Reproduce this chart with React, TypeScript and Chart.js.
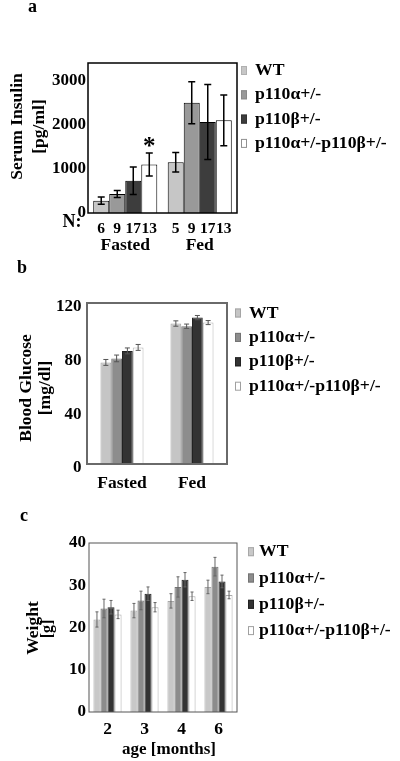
import React, { useEffect, useRef } from "react";
import { Chart, registerables } from "chart.js";

Chart.register(...registerables);

const FONT = "'Liberation Serif', 'Times New Roman', Times, serif";

const SERIES = ["WT", "p110α+/-", "p110β+/-", "p110α+/-p110β+/-"];

// ---- Panel a: Serum insulin ----
const insulinCategories = ["Fasted", "Fed"];
const insulinWT = [280, 1150];
const insulinA = [430, 2500];
const insulinB = [730, 2060];
const insulinAB = [1100, 2100];
const insulinErrWT = [80, 220];
const insulinErrA = [80, 475];
const insulinErrB = [310, 850];
const insulinErrAB = [260, 575];
const insulinN_WT = [6, 5];
const insulinN_A = [9, 9];
const insulinN_B = [17, 17];
const insulinN_AB = [13, 13];
const insulinStarWT = ["", ""];
const insulinStarA = ["", ""];
const insulinStarB = ["", ""];
const insulinStarAB = ["*", ""];
const insulinTicks = [0, 1000, 2000, 3000];
const insulinMax = 3400;

// ---- Panel b: Blood glucose ----
const glucoseCategories = ["Fasted", "Fed"];
const glucoseWT = [75.7, 104.7];
const glucoseA = [78.7, 102.7];
const glucoseB = [84.3, 109.1];
const glucoseAB = [86.9, 105.4];
const glucoseErrWT = [2.2, 2.0];
const glucoseErrA = [2.5, 1.6];
const glucoseErrB = [2.2, 1.6];
const glucoseErrAB = [2.2, 1.5];
const glucoseTicks = [0, 40, 80, 120];
const glucoseMax = 120;

// ---- Panel c: Weight ----
const weightCategories = ["2", "3", "4", "6"];
const weightWT = [21.9, 24.0, 26.3, 29.6];
const weightA = [24.5, 26.4, 29.6, 34.4];
const weightB = [24.8, 28.0, 31.3, 30.9];
const weightAB = [23.1, 24.8, 27.4, 27.7];
const weightErrWT = [1.8, 1.7, 1.7, 1.6];
const weightErrA = [2.2, 2.2, 2.4, 2.2];
const weightErrB = [1.6, 1.6, 1.7, 1.5];
const weightErrAB = [1.0, 1.1, 1.0, 0.9];
const weightTicks = [0, 10, 20, 30, 40];
const weightMax = 40;

type TextItem = { text: string; x: number; y: number; size: number; rot?: boolean };

type PanelCfg = {
  top: number;
  height: number;
  categories: string[];
  values: number[][];
  errors: number[][];
  colors: string[];
  borders: string[];
  borderWidth: number;
  legendBorders: string[];
  yMax: number;
  yTicks: number[];
  tickLabelOffset: number;
  yTickPad: number;
  padTop: number;
  padRight: number;
  yWidth: number;
  xHeight: number;
  xTickPad: number;
  xFontSize: number;
  catPct: number;
  frameColor: string;
  frameWidth: number;
  errColor: string;
  errWidth: number;
  errCap: number;
  texts: TextItem[];
  legend: { boxX: number; textX: number; y0: number; dy: number };
  nCounts?: number[][];
  nY?: number;
  stars?: string[][];
};

function decorPlugin(cfg: PanelCfg) {
  return {
    id: "decor",
    afterDatasetsDraw(chart: any) {
      const ctx = chart.ctx as CanvasRenderingContext2D;
      const ys = chart.scales.y;
      const { left, right, top, bottom } = chart.chartArea;
      ctx.save();
      // error bars
      chart.data.datasets.forEach((ds: any, i: number) => {
        const meta = chart.getDatasetMeta(i);
        meta.data.forEach((el: any, j: number) => {
          const v = ds.data[j];
          const e = cfg.errors[i][j];
          const x = el.x;
          const yt = ys.getPixelForValue(v + e);
          const yb = ys.getPixelForValue(v - e);
          ctx.strokeStyle = cfg.errColor;
          ctx.lineWidth = cfg.errWidth;
          ctx.beginPath();
          ctx.moveTo(x, yt);
          ctx.lineTo(x, yb);
          ctx.moveTo(x - cfg.errCap, yt);
          ctx.lineTo(x + cfg.errCap, yt);
          ctx.moveTo(x - cfg.errCap, yb);
          ctx.lineTo(x + cfg.errCap, yb);
          ctx.stroke();
          if (cfg.stars && cfg.stars[i][j]) {
            ctx.fillStyle = "#000";
            ctx.font = `bold 25px ${FONT}`;
            ctx.textAlign = "center";
            ctx.textBaseline = "alphabetic";
            ctx.fillText(cfg.stars[i][j], x, yt + 1);
          }
          if (cfg.nCounts && cfg.nY !== undefined) {
            ctx.fillStyle = "#000";
            ctx.font = `bold 15.5px ${FONT}`;
            ctx.textAlign = "center";
            ctx.textBaseline = "middle";
            ctx.fillText(String(cfg.nCounts[i][j]), x, cfg.nY);
          }
        });
      });
      // frame
      ctx.strokeStyle = cfg.frameColor;
      ctx.lineWidth = cfg.frameWidth;
      ctx.strokeRect(left, top, right - left, bottom - top);
      ctx.restore();
    },
    afterDraw(chart: any) {
      const ctx = chart.ctx as CanvasRenderingContext2D;
      ctx.save();
      ctx.fillStyle = "#000";
      cfg.texts.forEach((t) => {
        ctx.font = `bold ${t.size}px ${FONT}`;
        ctx.textAlign = "center";
        ctx.textBaseline = "middle";
        if (t.rot) {
          ctx.save();
          ctx.translate(t.x, t.y);
          ctx.rotate(-Math.PI / 2);
          ctx.fillText(t.text, 0, 0);
          ctx.restore();
        } else {
          ctx.fillText(t.text, t.x, t.y);
        }
      });
      // legend
      const L = cfg.legend;
      SERIES.forEach((s, i) => {
        const cy = L.y0 + i * L.dy;
        ctx.fillStyle = cfg.colors[i];
        ctx.fillRect(L.boxX, cy - 4.5, 6, 9);
        ctx.strokeStyle = cfg.legendBorders[i];
        ctx.lineWidth = 1;
        ctx.strokeRect(L.boxX + 0.5, cy - 4, 5, 8);
        ctx.fillStyle = "#000";
        ctx.font = `bold 17.7px ${FONT}`;
        ctx.textAlign = "left";
        ctx.textBaseline = "middle";
        ctx.fillText(s, L.textX, cy);
      });
      ctx.restore();
    },
  };
}

function Panel({ cfg }: { cfg: PanelCfg }) {
  const ref = useRef<HTMLCanvasElement>(null);
  useEffect(() => {
    const chart = new Chart(ref.current as HTMLCanvasElement, {
      type: "bar",
      data: {
        labels: cfg.categories,
        datasets: SERIES.map((s, i) => ({
          label: s,
          data: cfg.values[i],
          backgroundColor: cfg.colors[i],
          borderColor: cfg.borders[i],
          borderWidth: cfg.borderWidth,
          categoryPercentage: cfg.catPct,
          barPercentage: 1,
        })),
      },
      options: {
        responsive: false,
        animation: false,
        devicePixelRatio: 1,
        layout: { padding: { top: cfg.padTop, right: cfg.padRight, left: 0, bottom: 0 } },
        plugins: {
          legend: { display: false },
          tooltip: { enabled: false },
          title: { display: false },
        },
        scales: {
          x: {
            grid: { display: false, drawTicks: false },
            border: { display: false },
            ticks: {
              color: "#000",
              font: { family: FONT, size: cfg.xFontSize, weight: "bold" },
              padding: cfg.xTickPad,
              maxRotation: 0,
              autoSkip: false,
            },
            afterFit: (s: any) => {
              s.height = cfg.xHeight;
            },
          },
          y: {
            min: 0,
            max: cfg.yMax,
            grid: { display: false, drawTicks: false },
            border: { display: false },
            ticks: {
              color: "#000",
              font: { family: FONT, size: 17, weight: "bold" },
              padding: cfg.yTickPad,
              labelOffset: cfg.tickLabelOffset,
              callback: (v: any) => String(v),
            },
            afterBuildTicks: (s: any) => {
              s.ticks = cfg.yTicks.map((v) => ({ value: v }));
            },
            afterFit: (s: any) => {
              s.width = cfg.yWidth;
            },
          },
        },
      } as any,
      plugins: [decorPlugin(cfg)],
    });
    return () => chart.destroy();
  }, []);
  return (
    <canvas
      ref={ref}
      width={400}
      height={cfg.height}
      style={{ position: "absolute", left: 0, top: cfg.top, width: 400, height: cfg.height }}
    />
  );
}

const panelA: PanelCfg = {
  top: 0,
  height: 255,
  categories: insulinCategories,
  values: [insulinWT, insulinA, insulinB, insulinAB],
  errors: [insulinErrWT, insulinErrA, insulinErrB, insulinErrAB],
  colors: ["#c6c6c6", "#999999", "#3d3d3d", "#ffffff"],
  borders: ["#000000", "#000000", "#000000", "#000000"],
  borderWidth: 1,
  legendBorders: ["#b0b0b0", "#8a8a8a", "#333333", "#909090"],
  yMax: insulinMax,
  yTicks: insulinTicks,
  tickLabelOffset: 0,
  yTickPad: 2,
  padTop: 63,
  padRight: 163,
  yWidth: 88,
  xHeight: 42,
  xTickPad: 22,
  xFontSize: 17.5,
  catPct: 0.86,
  frameColor: "#000000",
  frameWidth: 1.5,
  errColor: "#000000",
  errWidth: 1.5,
  errCap: 3.5,
  texts: [
    { text: "a", x: 32.5, y: 7.5, size: 18 },
    { text: "Serum Insulin", x: 17, y: 126.5, size: 17.5, rot: true },
    { text: "[pg/ml]", x: 39, y: 126.5, size: 17.5, rot: true },
    { text: "N:", x: 72, y: 222, size: 18 },
  ],
  legend: { boxX: 241, textX: 255, y0: 70.5, dy: 24.3 },
  nCounts: [insulinN_WT, insulinN_A, insulinN_B, insulinN_AB],
  nY: 229,
  stars: [insulinStarWT, insulinStarA, insulinStarB, insulinStarAB],
};

const panelB: PanelCfg = {
  top: 255,
  height: 245,
  categories: glucoseCategories,
  values: [glucoseWT, glucoseA, glucoseB, glucoseAB],
  errors: [glucoseErrWT, glucoseErrA, glucoseErrB, glucoseErrAB],
  colors: ["#c5c5c5", "#8d8d8d", "#333333", "#ffffff"],
  borders: ["#a5a5a5", "#737373", "#222222", "#b5b5b5"],
  borderWidth: 1,
  legendBorders: ["#a5a5a5", "#737373", "#222222", "#a0a0a0"],
  yMax: glucoseMax,
  yTicks: glucoseTicks,
  tickLabelOffset: 4,
  yTickPad: 5.5,
  padTop: 48,
  padRight: 173,
  yWidth: 87,
  xHeight: 36,
  xTickPad: 9,
  xFontSize: 17.5,
  catPct: 0.615,
  frameColor: "#6a6a6a",
  frameWidth: 2,
  errColor: "#555555",
  errWidth: 1,
  errCap: 2.5,
  texts: [
    { text: "b", x: 22, y: 13, size: 18 },
    { text: "Blood Glucose", x: 26, y: 133, size: 17.5, rot: true },
    { text: "[mg/dl]", x: 45, y: 133, size: 17.5, rot: true },
  ],
  legend: { boxX: 235, textX: 249, y0: 58, dy: 24.4 },
};

const panelC: PanelCfg = {
  top: 500,
  height: 261,
  categories: weightCategories,
  values: [weightWT, weightA, weightB, weightAB],
  errors: [weightErrWT, weightErrA, weightErrB, weightErrAB],
  colors: ["#c8c8c8", "#8c8c8c", "#333333", "#ffffff"],
  borders: ["#a8a8a8", "#747474", "#222222", "#aaaaaa"],
  borderWidth: 1,
  legendBorders: ["#a8a8a8", "#747474", "#222222", "#a0a0a0"],
  yMax: weightMax,
  yTicks: weightTicks,
  tickLabelOffset: 0,
  yTickPad: 3,
  padTop: 43,
  padRight: 163,
  yWidth: 89,
  xHeight: 49,
  xTickPad: 7,
  xFontSize: 17.5,
  catPct: 0.76,
  frameColor: "#555555",
  frameWidth: 1,
  errColor: "#666666",
  errWidth: 1,
  errCap: 1.5,
  texts: [
    { text: "c", x: 24, y: 16.7, size: 18 },
    { text: "Weight", x: 33, y: 128, size: 17.5, rot: true },
    { text: "[g]", x: 48, y: 129, size: 16, rot: true },
    { text: "age [months]", x: 169, y: 250, size: 17 },
  ],
  legend: { boxX: 248, textX: 259, y0: 51.7, dy: 26.3 },
};

export default function App() {
  return (
    <div
      style={{
        position: "absolute",
        left: 0,
        top: 0,
        width: 400,
        height: 761,
        background: "#ffffff",
        overflow: "hidden",
      }}
    >
      <Panel cfg={panelA} />
      <Panel cfg={panelB} />
      <Panel cfg={panelC} />
    </div>
  );
}
